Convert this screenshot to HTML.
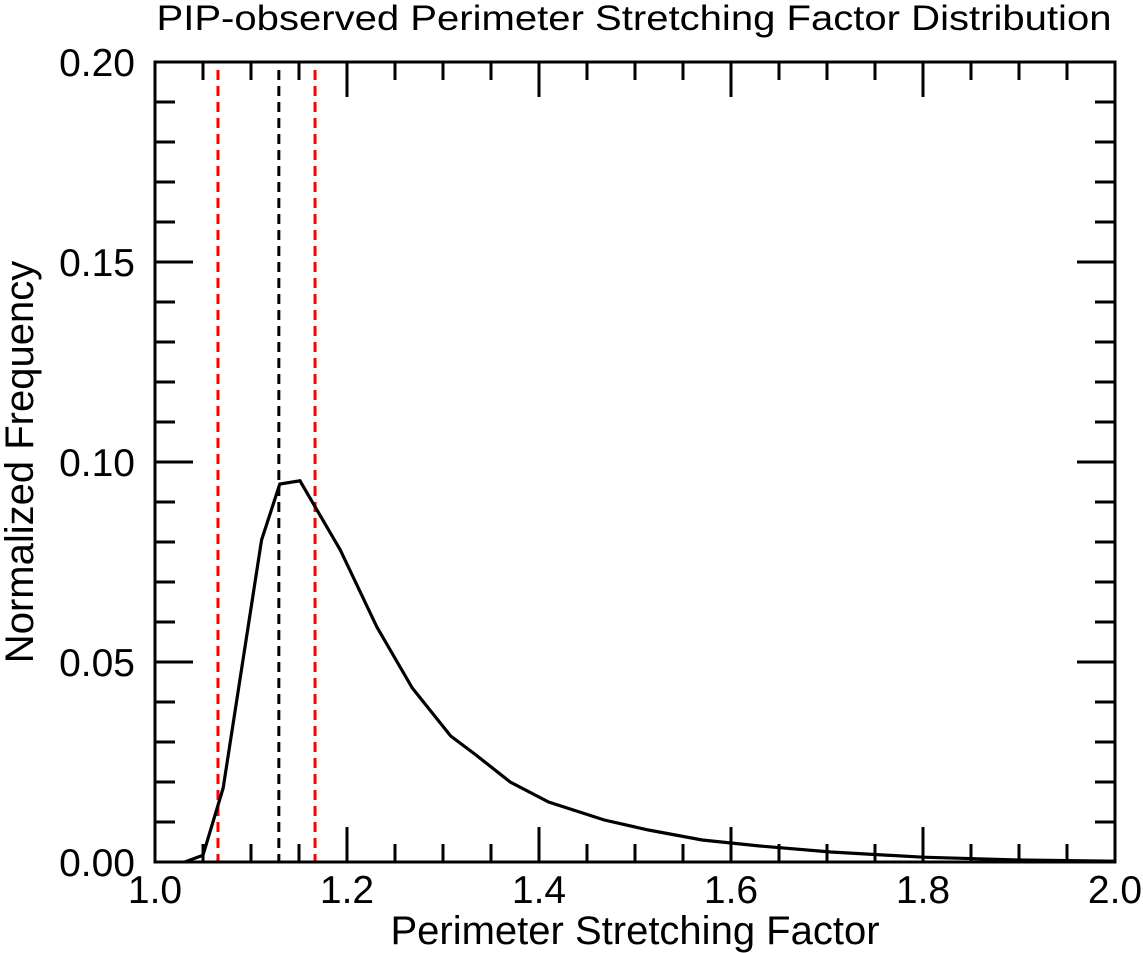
<!DOCTYPE html>
<html><head><meta charset="utf-8"><style>
html,body{margin:0;padding:0;background:#fff;}
svg{display:block;font-family:"Liberation Sans",sans-serif;}
</style></head><body>
<svg id="chart" width="1143" height="953" viewBox="0 0 1143 953" xmlns="http://www.w3.org/2000/svg">
<text x="634" y="30" font-size="35" text-anchor="middle" textLength="955" lengthAdjust="spacingAndGlyphs">PIP-observed Perimeter Stretching Factor Distribution</text>
<text x="635" y="944" font-size="40" text-anchor="middle">Perimeter Stretching Factor</text>
<text transform="translate(33,462) rotate(-90)" font-size="40" text-anchor="middle">Normalized Frequency</text>
<g id="ticks"></g>
<g id="marks"></g>
<rect x="155" y="62" width="960" height="800" fill="none" stroke="#000" stroke-width="3"/>
</svg>
<script>
const xs = [1.031,1.05,1.071,1.111,1.130,1.151,1.193,1.231,1.268,1.308,1.333,1.370,1.410,1.468,1.514,1.570,1.630,1.704,1.800,1.900,2.0];
const ys = [0,0.0017,0.0185,0.0805,0.0945,0.0953,0.078,0.0588,0.0435,0.0315,0.027,0.0200,0.0150,0.0105,0.0080,0.0055,0.0040,0.0025,0.0012,0.0005,0.0002];
const vlinesBlack = [1.129];
const vlinesRed = [1.0656,1.1667];
const xTickLabels = ["1.0","1.2","1.4","1.6","1.8","2.0"];
const yTickLabels = ["0.00","0.05","0.10","0.15","0.20"];
const X0=155,X1=1115,Y0=862,Y1=62;
const sx=v=>X0+(v-1.0)/(2.0-1.0)*(X1-X0);
const sy=v=>Y0-(v-0)/(0.20)*(Y0-Y1);
const NS="http://www.w3.org/2000/svg";
const ticks=document.getElementById('ticks'), marks=document.getElementById('marks');
function ln(g,x1,y1,x2,y2,c,w,d){const l=document.createElementNS(NS,'line');l.setAttribute('x1',x1);l.setAttribute('y1',y1);l.setAttribute('x2',x2);l.setAttribute('y2',y2);l.setAttribute('stroke',c);l.setAttribute('stroke-width',w);if(d)l.setAttribute('stroke-dasharray',d);g.appendChild(l);return l;}
function tx(g,x,y,s,a){const t=document.createElementNS(NS,'text');t.setAttribute('x',x);t.setAttribute('y',y);t.setAttribute('font-size',39);t.setAttribute('text-anchor',a);t.textContent=s;g.appendChild(t);return t;}
for(let i=0;i<=20;i++){const v=1+i*0.05;const x=sx(v);const L=(i%4===0)?35:18;
 let a=ln(ticks,x,Y0,x,Y0-L,'#000',3);
 let b=ln(ticks,x,Y1,x,Y1+L,'#000',3);}
for(let i=0;i<=20;i++){const v=i*0.01;const y=sy(v);const L=(i%5===0)?38:20;
 let a=ln(ticks,X0,y,X0+L,y,'#000',3);
 let b=ln(ticks,X1,y,X1-L,y,'#000',3);}
xTickLabels.forEach(s=>{const t=tx(ticks,sx(parseFloat(s)),903,s,'middle');});
yTickLabels.forEach(s=>{const t=tx(ticks,135,sy(parseFloat(s))+14,s,'end');});
vlinesRed.forEach(v=>{const l=ln(marks,sx(v),Y1+8,sx(v),Y0,'#ff0000',3,'10 6');});
vlinesBlack.forEach(v=>{const l=ln(marks,sx(v),Y1+8,sx(v),Y0,'#000',3,'10 6');});
const p=document.createElementNS(NS,'polyline');
p.setAttribute('points',xs.map((x,i)=>sx(x)+','+sy(ys[i])).join(' '));
p.setAttribute('fill','none');p.setAttribute('stroke','#000');p.setAttribute('stroke-width','3.2');


marks.appendChild(p);
</script>
</body></html>
